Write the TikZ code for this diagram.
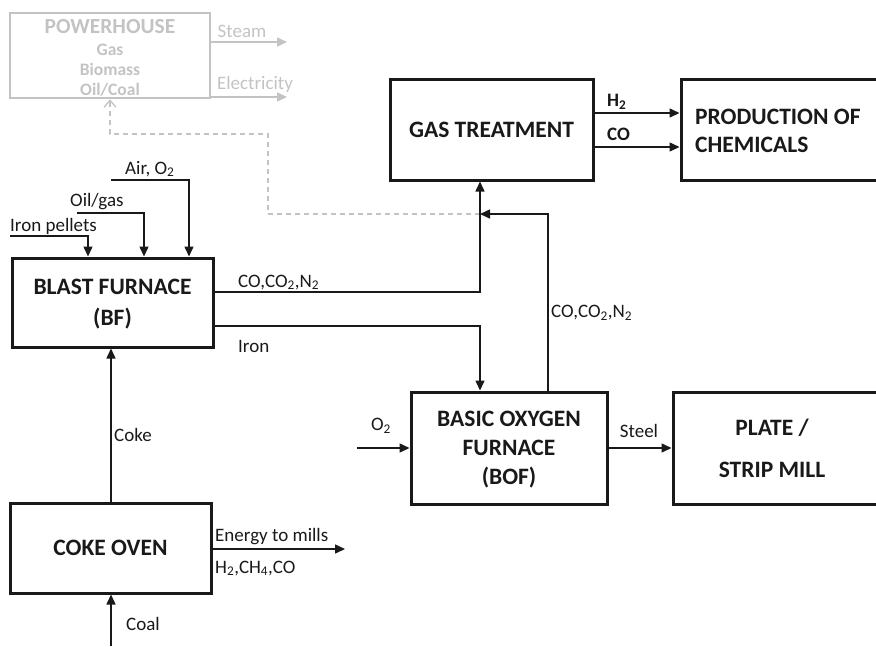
\documentclass[tikz,border=0pt]{standalone}
\usepackage{fontspec}
\setmainfont{Carlito}
\usetikzlibrary{arrows.meta}
\definecolor{ink}{RGB}{25,25,25}
\definecolor{lgray}{RGB}{195,195,195}
\tikzset{
  box/.style={draw=ink, line width=3pt, inner sep=0pt, align=center, text=ink,
    font=\bfseries\fontsize{23.5}{31}\selectfont},
  gbox/.style={draw=lgray, line width=2.5pt, inner sep=0pt},
  conn/.style={draw=ink, line width=1.5pt},
  arr/.style={conn, -{Triangle[length=10pt,width=9pt]}},
  garr/.style={draw=lgray, line width=1.5pt, -{Triangle[length=10pt,width=9pt]}},
  dashline/.style={draw=lgray, line width=1.3pt, dash pattern=on 5pt off 4pt, -{Straight Barb[length=7pt,width=12pt]}},
  lbl/.style={text=ink, inner sep=0pt, font=\fontsize{19}{22}\selectfont},
  glbl/.style={text=lgray, inner sep=0pt, font=\fontsize{19}{22}\selectfont},
}
\begin{document}
\begin{tikzpicture}[x=1pt,y=-1pt]
\useasboundingbox (0,0) rectangle (876,646);
% boxes
\node[gbox, minimum width=200pt, minimum height=85pt] (ph) at (110,55.5) {};
\node[text=lgray, font=\bfseries\fontsize{21.5}{21}\selectfont, inner sep=0pt] (phA) at (110,27) {POWERHOUSE};
\node[text=lgray, font=\bfseries\fontsize{17.5}{20}\selectfont, inner sep=0pt, align=center] (phB) at (110,70.5) {Gas\\Biomass\\Oil/Coal};
\node[box, minimum width=201pt, minimum height=89pt, text depth=0pt] (bf) at (112.5,302.5) {BLAST FURNACE\\(BF)};
\node[box, minimum width=203pt, minimum height=101pt] (gas) at (491.5,129.5) {GAS TREATMENT};
\node[box, minimum width=200pt, minimum height=101pt] (chem) at (781,129.5) {};
\node[text=ink, inner sep=0pt, anchor=west, align=left,
  font=\bfseries\fontsize{23.5}{27.5}\selectfont] (chemT) at (695,131) {PRODUCTION OF\\CHEMICALS};
\node[box, minimum width=196pt, minimum height=112pt, text depth=0pt, font=\bfseries\fontsize{23.5}{29}\selectfont] (bof) at (509,448) {BASIC OXYGEN\\FURNACE\\(BOF)};
\node[box, minimum width=206pt, minimum height=112pt, text depth=0pt, font=\bfseries\fontsize{23.5}{42}\selectfont] (plate) at (776,448) {\hspace*{-8pt}PLATE /\\\hspace*{-8pt}STRIP MILL};
\node[box, minimum width=201pt, minimum height=90pt] (coke) at (110.5,548) {COKE OVEN};
% coordinates
\coordinate (ipS) at (10,236);
\coordinate (ogS) at (77,213);
\coordinate (aoS) at (111,180);
\coordinate (j1) at (480,292);
\coordinate (j2) at (480,326);
\coordinate (j3) at (548,214);
\coordinate (j4) at (480,214);
\coordinate (d1) at (268,214);
\coordinate (d2) at (268,134);
\coordinate (d3) at (110,134);
\coordinate (stE) at (287,42);
\coordinate (elE) at (287,97);
\coordinate (o2S) at (357,448);
\coordinate (enE) at (345,549);
\coordinate (coalS) at (111,646);
% powerhouse
\draw[garr] (ph.east |- stE) -- (stE);
\draw[garr] (ph.east |- elE) -- (elE);
\draw[dashline] (j4) -- (d1) -- (d2) -- (d3) -- (d3 |- ph.south);
% BF inputs
\draw[arr] (ipS) -| (88,0 |- bf.north);
\draw[arr] (ogS) -| (144,0 |- bf.north);
\draw[arr] (aoS) -| (189,0 |- bf.north);
% BF outputs
\draw[arr] (bf.east |- j1) -- (j1) -- (j1 |- gas.south);
\draw[arr] (bf.east |- j2) -- (j2) -- (j2 |- bof.north);
\draw[arr] (j3 |- bof.north) -- (j3) -- (j4);
% gas treatment
\draw[arr] (gas.east |- 0,113) -- (chem.west |- 0,113);
\draw[arr] (gas.east |- 0,147) -- (chem.west |- 0,147);
% BOF
\draw[arr] (o2S) -- (bof.west |- o2S);
\draw[arr] (bof.east |- o2S) -- (plate.west |- o2S);
% coke
\draw[arr] (coke.north -| 111,0) -- (bf.south -| 111,0);
\draw[arr] (coke.east |- enE) -- (enE);
\draw[arr] (coalS) -- (coalS |- coke.south);
% labels
\node[glbl] (lst) at (242,31) {Steam};
\node[glbl] (lel) at (255,84) {Electricity};
\node[lbl, anchor=base west] (lip) at (10,231) {Iron pellets};
\node[lbl, anchor=base west] (log) at (70,206) {Oil/gas};
\node[lbl, anchor=base west] (lao) at (125,174) {Air, O\textsubscript{2}};
\node[lbl, anchor=base west] (lco) at (238,287) {CO,CO\textsubscript{2},N\textsubscript{2}};
\node[lbl, anchor=base west] (lir) at (238,352) {Iron};
\node[lbl, anchor=west] (lcoke) at (114,435) {Coke};
\node[lbl, anchor=west] (lbofco) at (551,313) {CO,CO\textsubscript{2},N\textsubscript{2}};
\node[lbl, anchor=base west] (len) at (215,541) {Energy to mills};
\node[lbl, anchor=base west] (lh2c) at (215,573) {H\textsubscript{2},CH\textsubscript{4},CO};
\node[lbl, anchor=west] (lcoal) at (126,624) {Coal};
\node[lbl] (lo2) at (381,426) {O\textsubscript{2}};
\node[lbl] (lsteel) at (639,431) {Steel};
\node[lbl, font=\bfseries\fontsize{19}{22}\selectfont, anchor=west] (lh2) at (607,102) {H\textsubscript{2}};
\node[lbl, font=\bfseries\fontsize{19}{22}\selectfont, anchor=west] (lcog) at (607,134) {CO};
\end{tikzpicture}
\end{document}
